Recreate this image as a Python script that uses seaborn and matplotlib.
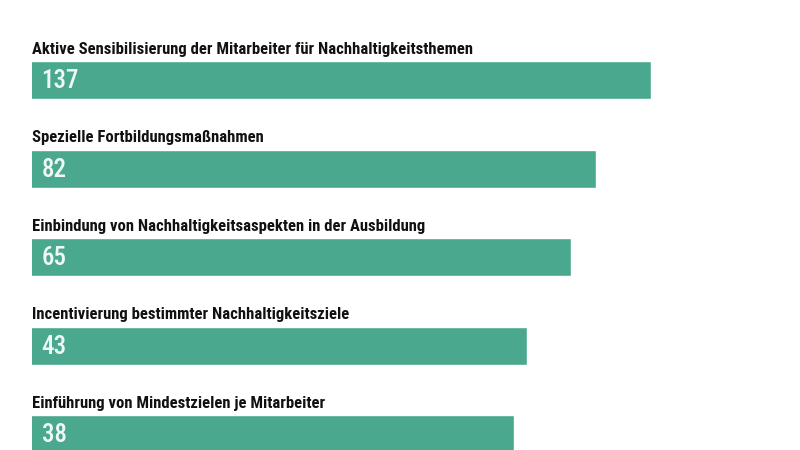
import matplotlib
matplotlib.use('Agg')
import matplotlib.pyplot as plt
import matplotlib.transforms as mtransforms
import seaborn as sns

# data
measures = [
    'Aktive Sensibilisierung der Mitarbeiter für Nachhaltigkeitsthemen',
    'Spezielle Fortbildungsmaßnahmen',
    'Einbindung von Nachhaltigkeitsaspekten in der Ausbildung',
    'Incentivierung bestimmter Nachhaltigkeitsziele',
    'Einführung von Mindestzielen je Mitarbeiter',
]
counts = [137, 82, 65, 43, 38]

BAR_COLOR = '#4aa88f'

sns.set_style('white')
plt.rcParams['font.family'] = ['Roboto Condensed', 'DejaVu Sans']

fig = plt.figure(figsize=(8, 4.5), dpi=100)
ax = fig.add_axes([0.04, 0.0, 0.96, 1.0])

sns.barplot(x=counts, y=measures, orient='h', color=BAR_COLOR,
            width=0.43, saturation=1, ax=ax)

# bars in the source are not linear in value; a log axis gets close
ax.set_xscale('log')
ax.set_xlim(0.41, 556)
ax.set_ylim(4.175, -0.907)

ax.set_axis_off()

trans = mtransforms.blended_transform_factory(ax.transAxes, ax.transData)
for i, (name, n) in enumerate(zip(measures, counts)):
    ax.text(0.0, i - 0.30, name, transform=trans, ha='left', va='baseline',
            fontsize=12, fontweight='bold', color='#111111')
    ax.text(0.0125, i + 0.01, str(n), transform=trans, ha='left', va='center',
            fontsize=18, fontweight='medium', color='#eef8f4')

fig.savefig('out.png', dpi=100)
